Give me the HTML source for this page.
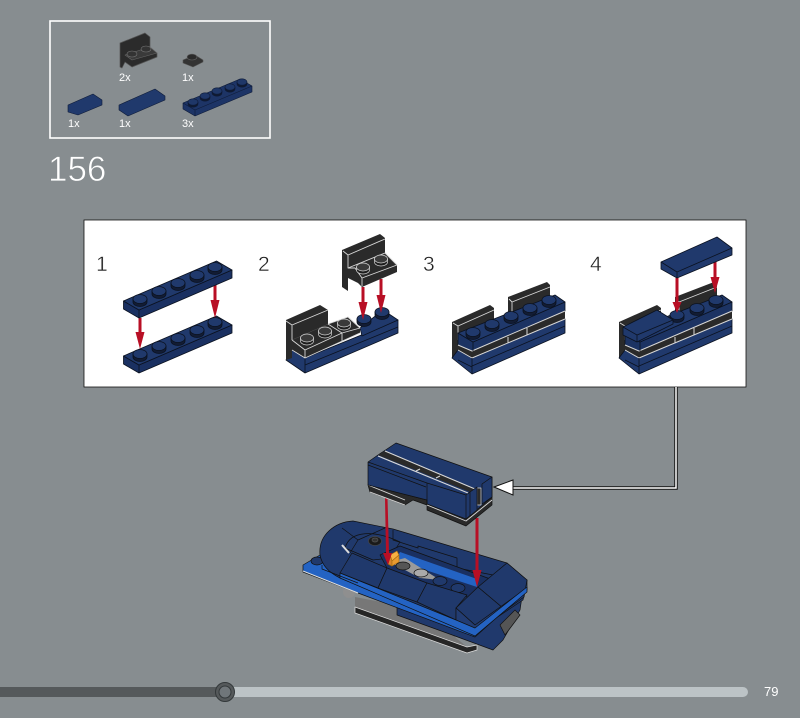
<!DOCTYPE html>
<html lang="en"><head><meta charset="utf-8"><title>Step 156</title>
<style>html,body{margin:0;padding:0;background:#878d90}svg{display:block}text{font-family:"Liberation Sans",sans-serif}</style></head>
<body>
<svg xmlns="http://www.w3.org/2000/svg" width="800" height="718" viewBox="0 0 800 718">
<defs>
<g id="s" stroke="#0b1220" stroke-width=".8"><path d="M-7 -3V0A7 4.500 0 0 0 7 0V-3Z" fill="#121c34"/><ellipse cy="-3" rx="7" ry="4.500" fill="#20396c"/></g>
<g id="g" stroke="#d8d8d8" stroke-width=".7"><path d="M-6.500 -3V0A6.500 4 0 0 0 6.500 0V-3Z" fill="#1d1d1d"/><ellipse cy="-3" rx="6.500" ry="4" fill="#3a3a3a"/></g>
<g id="is" stroke="#0f1c38" stroke-width=".6"><path d="M-5 -2V0A5 3.200 0 0 0 5 0V-2Z" fill="#101a30"/><ellipse cy="-2" rx="5" ry="3.200" fill="#1f3768"/></g>
<g id="p5" stroke="#0b1220" stroke-width=".8" stroke-linejoin="round">
<path d="M123.500 301L139 310L232 270V278L139 318L123.500 309Z" fill="#1a3061"/>
<path d="M123.500 301L139 310L232 270L216.500 261Z" fill="#20396c"/>
<path d="M139 310V318" fill="none"/>
<use href="#s" x="140" y="302"/><use href="#s" x="159" y="294"/><use href="#s" x="178" y="286"/><use href="#s" x="197" y="278"/><use href="#s" x="215" y="270"/>
</g>
<g id="wall3" stroke-linejoin="round">
<path d="M452 322L490 305L494 308V322L458 340V362L452 358Z" fill="#2a2a2a"/>
<path d="M508 297L547 282L550 285V300L508 318Z" fill="#2a2a2a"/>
<path d="M453 323L458 326L494 310M458 326V340M509 299L512 302L550 287M512 302V316" fill="none" stroke="#d8d8d8" stroke-width=".9"/>
</g>
<g id="body3" stroke-linejoin="round">
<path d="M452 358L458 350L472 358L565 319V333L472 374Z" fill="#20396c" stroke="#0b1220" stroke-width=".8"/>
<path d="M458 333L473 342L565 302V311L472 351L458 345Z" fill="#1c3363" stroke="#0b1220" stroke-width=".8"/>
<path d="M458 333L473 342L565 302L555 295Z" fill="#20396c" stroke="#0b1220" stroke-width=".8"/>
<path d="M458 345L472 351L565 311V319L472 358L458 350Z" fill="#2a2a2a"/>
<path d="M458 345L472 351L565 311M458 350L472 358L565 319M508 337V343M527 328V335" fill="none" stroke="#d8d8d8" stroke-width="1"/>
<path d="M473 342V351M472 358V374M472 366L565 326M458 360L472 367" fill="none" stroke="#0b1220" stroke-width=".8"/>
</g>
</defs>
<rect width="800" height="718" fill="#878d90"/>

<!-- inventory -->
<rect x="50" y="21" width="220" height="117" fill="none" stroke="#fff" stroke-width="1.600"/>
<g stroke-linejoin="round">
<path d="M120 43L145 33L150 37V49L157 53V57L132 67L125 62L122 68L120 67Z" fill="#2b2b2b" stroke="#555" stroke-width=".7"/>
<path d="M125 55L150 47L157 53L132 60Z" fill="#3a3a3a" stroke="#666" stroke-width=".6"/>
<ellipse cx="132" cy="54" rx="5" ry="3" fill="#333" stroke="#777" stroke-width=".6"/><ellipse cx="146" cy="49" rx="5" ry="3" fill="#333" stroke="#777" stroke-width=".6"/>
<path d="M183 60L195 55L203 60V62L193 67L183 63Z" fill="#333" stroke="#555" stroke-width=".6"/>
<ellipse cx="192" cy="57" rx="5" ry="3" fill="#2b2b2b" stroke="#666" stroke-width=".6"/>
<path d="M68 105L93 94L102 100V105L78 115L68 112Z" fill="#20396c" stroke="#0f1c38" stroke-width=".6"/>
<path d="M119 105L155 89L165 96V100L128 116L119 110Z" fill="#20396c" stroke="#0f1c38" stroke-width=".6"/>
<path d="M183 103L240 79L252 86V92L195 116L183 109Z" fill="#1d3466" stroke="#0f1c38" stroke-width=".6"/>
<path d="M183 103L195 110L252 86M195 110V116" fill="none" stroke="#0f1c38" stroke-width=".6"/>
</g>
<use href="#is" x="193" y="104"/><use href="#is" x="205" y="98"/><use href="#is" x="217" y="93"/><use href="#is" x="230" y="89"/><use href="#is" x="242" y="84"/>
<g font-size="11" fill="#fff"><text x="119" y="81">2x</text><text x="182" y="81">1x</text><text x="68" y="127">1x</text><text x="119" y="127">1x</text><text x="182" y="127">3x</text></g>
<text x="48" y="181" font-size="35" fill="#fff" stroke="#878d90" stroke-width=".7">156</text>

<!-- step panel -->
<rect x="84" y="220" width="662" height="167" fill="#fff" stroke="#111" stroke-width=".8"/>
<g font-size="21" fill="#222" stroke="#fff" stroke-width=".4"><text x="96" y="271">1</text><text x="258" y="271">2</text><text x="423" y="271">3</text><text x="590" y="271">4</text></g>

<!-- step 1 -->
<use href="#p5" y="55"/>
<path d="M138.500 318H141.500V332H144.500L140 349L135.500 332H138.500Z" fill="#b80f25"/>
<path d="M213.500 285H216.500V300H219.500L215 318L210.500 300H213.500Z" fill="#b80f25"/>
<use href="#p5"/>

<!-- step 2 -->
<g stroke="#0b1220" stroke-width=".8" stroke-linejoin="round">
<path d="M286 360L292 350L305 358L398 320V333L305 373Z" fill="#20396c"/>
<path d="M360 328L383 310L398 320L362 336Z" fill="#20396c"/>
<path d="M305 365L398 327M305 358V373" fill="none"/>
</g>
<use href="#s" x="364" y="322"/><use href="#s" x="382" y="315"/>
<g stroke-linejoin="round">
<path d="M286 320L320 305L328 310V324L292 340V358L286 360Z" fill="#2a2a2a"/>
<path d="M292 340L328 324L348 317L360 328V333L305 358L292 350Z" fill="#2a2a2a"/>
<path d="M292 340L305 350L342 333L328 324M342 333L360 328L348 317L328 324M305 350V358M342 333V342M286 321L292 325L328 310M292 325V340M292 350L305 358L360 333" fill="none" stroke="#d8d8d8" stroke-width=".9"/>
</g>
<use href="#g" x="307" y="341"/><use href="#g" x="325" y="334"/><use href="#g" x="344" y="326"/>
<path d="M361.500 287H364.500V302H367.500L363 320L358.500 302H361.500Z" fill="#b80f25"/>
<path d="M379.500 279H382.500V295H385.500L381 313L376.500 295H379.500Z" fill="#b80f25"/>
<g stroke-linejoin="round">
<path d="M342 250L380 234L385 238V253L397 265V272L362 287L358 283L348 278V291L342 287Z" fill="#2a2a2a"/>
<path d="M343 251L348 255L385 239M348 255V268L355 268L362 278L397 265L385 253L348 268M362 278V286" fill="none" stroke="#d8d8d8" stroke-width=".9"/>
</g>
<use href="#g" x="363" y="270"/><use href="#g" x="381" y="262"/>

<!-- step 3 -->
<use href="#wall3"/><use href="#body3"/>
<use href="#s" x="473" y="335"/><use href="#s" x="492" y="327"/><use href="#s" x="511" y="319"/><use href="#s" x="530" y="311"/><use href="#s" x="549" y="303"/>

<!-- step 4 -->
<g transform="translate(167 0)"><use href="#wall3"/><use href="#body3"/></g>
<use href="#s" x="677" y="318"/><use href="#s" x="697" y="311"/><use href="#s" x="716" y="303"/>
<path d="M623 327L657 310L673 320V324L637 342L623 335Z" fill="#20396c" stroke="#0b1220" stroke-width=".8" stroke-linejoin="round"/>
<path d="M623 327L637 335L673 320M637 335V342" fill="none" stroke="#0b1220" stroke-width=".8"/>
<path d="M675.500 278H678.500V302H681.500L677 313L672.500 302H675.500Z" fill="#b80f25"/>
<path d="M713.500 262H716.500V277H719.500L715 293L710.500 277H713.500Z" fill="#b80f25"/>
<g stroke="#0b1220" stroke-width=".8" stroke-linejoin="round">
<path d="M661 262L717 237L732 248V255L677 278L661 269Z" fill="#20396c"/>
<path d="M661 262L677 272L732 248M677 272V278" fill="none"/>
</g>

<!-- connector -->
<path d="M676 387V488H510" fill="none" stroke="#111" stroke-width="3.500"/>
<path d="M676 387V488H510" fill="none" stroke="#fff" stroke-width="1.500"/>
<path d="M494 487L513 480V495Z" fill="#fff" stroke="#111"/>

<!-- lower assembly -->
<g stroke="#111" stroke-width=".7" stroke-linejoin="round">
<!-- underside -->
<circle cx="349" cy="592" r="6" fill="#8f8f8f" stroke="none"/>
<path d="M355 597L397 605L455 625V637L467 647L355 607Z" fill="#777" stroke="none"/>
<path d="M355 607L467 647L477 645V650L467 653L355 613Z" fill="#262626" stroke="#ddd"/>
<path d="M397 605L455 628L475 625L523 590L520 610L503 640L493 650L455 636L397 615Z" fill="#20396c"/>
<path d="M500 625L515 610L520 615L505 635Z" fill="#555"/>
<!-- blue base plate -->
<path d="M303 565L320 555L400 580L478 620L527 580V590L475 637L358 593L303 572Z" fill="#2463c3"/>
<path d="M303 571L358 593" fill="none" stroke="#ddd" stroke-width="1"/>
<ellipse cx="317" cy="561" rx="6" ry="4" fill="#20396c"/>
<!-- dome and back wall -->
<path d="M320 555C318 535 335 522 353 521L393 529L507 563L527 580L523 600L475 632L340 578C328 572 322 565 320 555Z" fill="#20396c"/>
<path d="M345 548C350 530 375 530 400 542L390 558L373 560Z" fill="#20396c"/>
<path d="M393 530V540L418 548V546L457 558V568L493 575L507 563" fill="none"/>
<path d="M342 545L349 553" stroke="#ddd" stroke-width="2" fill="none"/>
<path d="M342 528L358 540L350 553M358 540L385 528" fill="none"/>
<!-- inner channel -->
<path d="M380 555L400 546L493 580L478 588L470 598L388 570Z" fill="#1a3061"/>
<path d="M400 552L477 579V587L395 560Z" fill="#2463c3" stroke="none"/>
<path d="M390 562L405 558L440 580L420 578Z" fill="#9b9b9b" stroke="none"/>
<ellipse cx="375" cy="541" rx="6.500" ry="4.500" fill="#1a1a1a" stroke="#444"/>
<ellipse cx="375" cy="540" rx="3" ry="2" fill="#333" stroke="#555"/>
<path d="M390 555L397 551L399 555L392 561Z" fill="#f5b043" stroke="#a86d10"/>
<path d="M390 555L392 561V566L388 564Z" fill="#d9852a" stroke="#a86d10"/>
<path d="M392 561L399 555V562L392 566Z" fill="#e89a30" stroke="#a86d10"/>
<!-- studs -->
<ellipse cx="403" cy="566" rx="7" ry="4" fill="#555"/><ellipse cx="421" cy="573" rx="7" ry="4" fill="#aaa"/>
<ellipse cx="440" cy="581" rx="7" ry="4.500" fill="#20396c"/><ellipse cx="458" cy="588" rx="7" ry="4.500" fill="#20396c"/>
<!-- front tiles -->
<path d="M352 553L387 568L378 588L340 573Z" fill="#20396c"/>
<path d="M387 568L427 583L417 602L378 588Z" fill="#20396c"/>
<path d="M427 583L467 595L456 608V620L417 602Z" fill="#20396c"/>
<path d="M456 608L478 587L503 608L475 625Z" fill="#20396c"/>
<path d="M478 587L507 563L527 580L524 597L503 608Z" fill="#20396c"/>
<path d="M456 608V620L475 632L524 597V590L475 625Z" fill="#223c72"/>
<!-- bright strip -->
<path d="M340 573L456 620L475 628L527 587V592L475 636L340 578Z" fill="#2463c3"/>
<path d="M322 565V569L358 583" fill="none"/>
</g>
<path d="M385 498H387.500L389 553H392L388 565L383 553H386Z" fill="#b80f25"/>
<path d="M475.500 518H478.500V570H481.500L477 587L472.500 570H475.500Z" fill="#b80f25"/>

<!-- upper block -->
<g stroke="#111" stroke-width=".7" stroke-linejoin="round">
<path d="M368 485L427 500L466 517L492 497V505L466 526L427 510V505L413 500L405 505L370 492Z" fill="#2a2a2a"/>
<path d="M368 485L405 500M370 492L405 505M427 505L466 521L492 500" fill="none" stroke="#d8d8d8" stroke-width=".9"/>
<path d="M368 462L378 455L396 443L492 477V497L466 519L427 504V500L368 485Z" fill="#20396c"/>
<path d="M378 455L470 492L475 489L385 451Z" fill="#2a2a2a" stroke="none"/>
<path d="M385 451L475 489M378 456L468 493M420 469L416 471M440 476L436 478" fill="none" stroke="#d8d8d8" stroke-width="1.100"/>
<path d="M368 462L427 483L466 495L470 492M427 483V504M466 495V519M368 465L426 487" fill="none"/>
<path d="M477 488H481V505H477Z" fill="#2a2a2a" stroke="#d8d8d8"/>
<path d="M470 492L477 487V510L470 516ZM482 484L492 477V497L482 504Z" fill="#20396c"/>
</g>

<!-- progress -->
<rect x="0" y="687" width="225" height="10" fill="#55595b"/>
<rect x="225" y="687" width="523" height="10" rx="5" fill="#bcc3c6"/>
<circle cx="225" cy="692" r="9.500" fill="#55595b" stroke="#33383a"/>
<circle cx="225" cy="692" r="6" fill="#70767a" stroke="#33383a"/>
<text x="764" y="696" font-size="13" fill="#fff">79</text>
</svg>
</body></html>
